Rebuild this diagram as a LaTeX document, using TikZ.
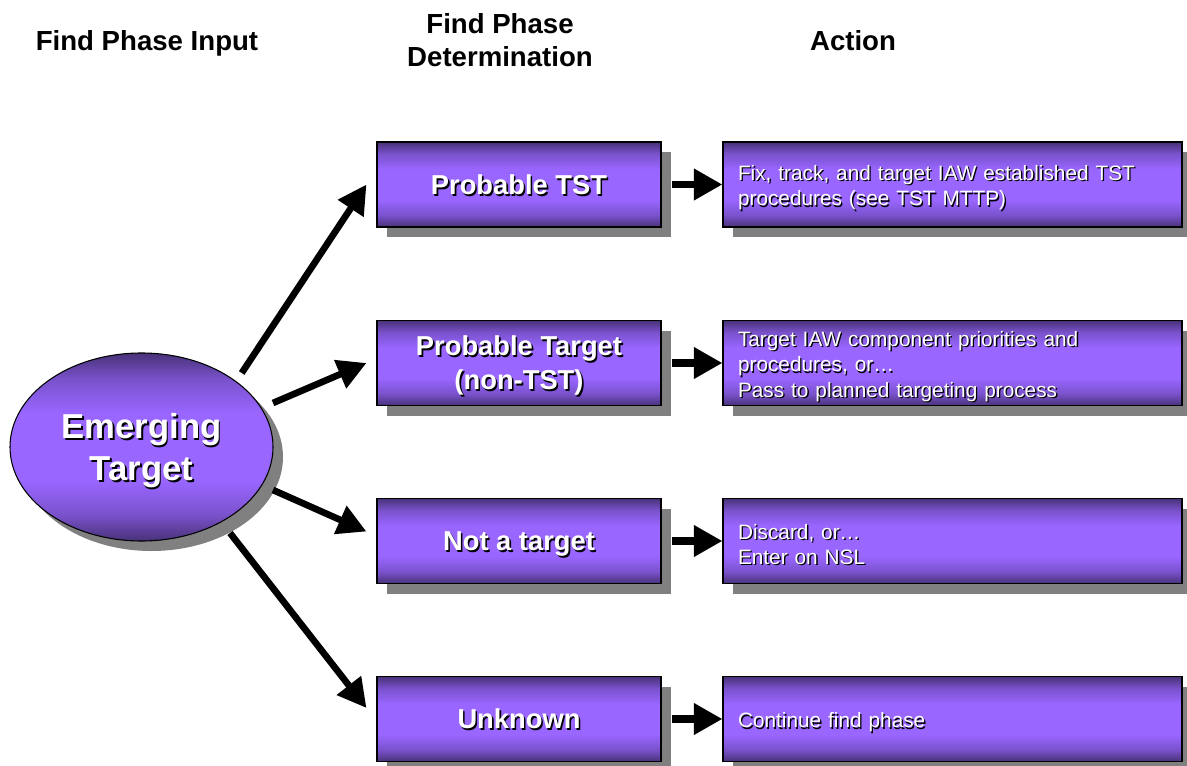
\documentclass[tikz,border=0pt]{standalone}
\usepackage{fontspec}
\setmainfont{Liberation Sans}
\usetikzlibrary{arrows.meta,shapes.geometric,shadows,calc}
\definecolor{pdk}{RGB}{72,50,120}
\definecolor{pmd}{RGB}{122,82,204}
\definecolor{pbr}{RGB}{153,102,255}
\definecolor{shgray}{RGB}{128,128,128}
\pgfdeclareverticalshading{purp}{100bp}{color(0bp)=(pdk); color(25bp)=(pdk); color(32bp)=(pmd); color(41bp)=(pbr); color(50bp)=(pbr); color(59bp)=(pbr); color(68bp)=(pmd); color(75bp)=(pdk); color(100bp)=(pdk)}
\newcommand\shtx[2][1pt]{\makebox[0pt][l]{\kern#1\raisebox{-#1}{\textcolor{black}{#2}}}\textcolor{white}{#2}}
\newcommand\ashtx[1]{\raisebox{-3pt}[\height][\depth]{\shtx{#1}}}
\begin{document}
\begin{tikzpicture}[x=0.75pt,y=-0.75pt,
  hdr/.style={inner sep=0pt, align=center, font=\bfseries\fontsize{20.7}{25}\selectfont},
  purpshape/.style={draw=black, line width=0.8pt, shading=purp,
    drop shadow={shadow xshift=7.5pt, shadow yshift=-7.5pt, fill=shgray, opacity=1}},
  pbox/.style={purpshape, rectangle, minimum width=213pt, minimum height=63.75pt,
    inner sep=0pt, align=center, text depth=0pt,
    font=\bfseries\fontsize{20.5}{25.5}\selectfont},
  abox/.style={purpshape, rectangle, text width=321.75pt, inner xsep=11.25pt,
    inner ysep=0pt, minimum height=63.75pt, align=left,
    font=\fontsize{15.6}{19}\selectfont},
  ebox/.style={purpshape, ellipse, minimum width=197.25pt, minimum height=141pt,
    inner sep=0pt, align=center, text depth=0pt,
    font=\bfseries\fontsize{26}{31.5}\selectfont},
  darr/.style={line width=5pt, -{Triangle[length=21.5pt,width=22pt]}},
  sarr/.style={line width=5.5pt, -{Triangle[length=21.5pt,width=22.5pt]}}
]
\useasboundingbox (0,0) rectangle (1187,766);

% headers
\node[hdr] (h1) at (147,43) {Find Phase Input};
\node[hdr] (h2) at (500,40) {Find Phase\\Determination};
\node[hdr] (h3) at (853,40.5) {Action};

% ellipse
\node[ebox] (e) at (141.5,447) {\shtx[1.3pt]{Emerging}\\\shtx[1.3pt]{Target}};

% determination boxes
\node[pbox] (b1) at (519,184.5) {\shtx[1.2pt]{Probable TST}};
\node[pbox] (b2) at (519,363) {\shtx[1.2pt]{Probable Target}\\\shtx[1.2pt]{(non-TST)}};
\node[pbox] (b3) at (519,541) {\shtx[1.2pt]{Not a target}};
\node[pbox] (b4) at (519,719) {\shtx[1.2pt]{Unknown}};

% action boxes
\node[abox] (a1) at (952.5,184.5) {\ashtx{Fix, track, and target IAW established TST}\\\ashtx{procedures (see TST MTTP)}};
\node[abox] (a2) at (952.5,363) {\ashtx{Target IAW component priorities and}\\\ashtx{procedures, or…}\\\ashtx{Pass to planned targeting process}};
\node[abox] (a3) at (952.5,541) {\ashtx{Discard, or…}\\\ashtx{Enter on NSL}};
\node[abox] (a4) at (952.5,719) {\ashtx{Continue find phase}};

% diagonal arrows
\draw[darr] ($(e.center)+(100.2,-74)$) -- ($(b1.west)+(-10,0)$);
\draw[darr] ($(e.center)+(131.5,-44)$) -- ($(b2.west)+(-10,0)$);
\draw[darr] ($(e.center)+(131.5,43)$) -- ($(b3.west)+(-10,-9.5)$);
\draw[darr] ($(e.center)+(88.5,86)$) -- ($(b4.west)+(-10,-11)$);

% short arrows
\draw[sarr] ($(b1.east)+(10,0)$) -- (a1.west);
\draw[sarr] ($(b2.east)+(10,0)$) -- (a2.west);
\draw[sarr] ($(b3.east)+(10,0)$) -- (a3.west);
\draw[sarr] ($(b4.east)+(10,0)$) -- (a4.west);
\end{tikzpicture}
\end{document}
